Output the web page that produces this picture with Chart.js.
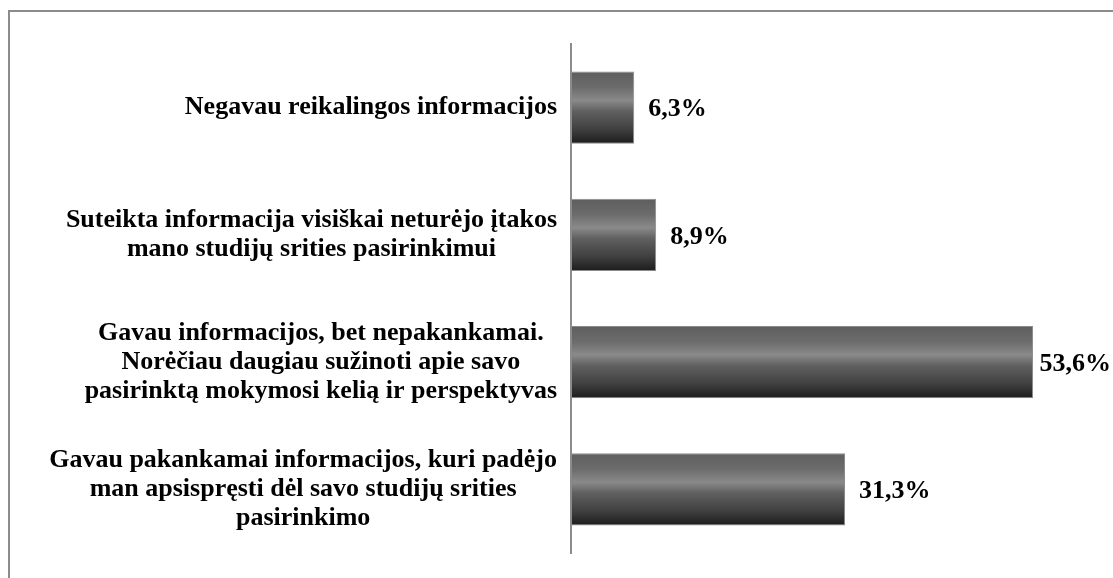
<!DOCTYPE html>
<html>
<head>
<meta charset="utf-8">
<script src="https://cdn.jsdelivr.net/npm/chart.js@4/dist/chart.umd.min.js"></script>
<style>
  html, body { margin: 0; padding: 0; background: #fff; }
  #wrap { width: 1113px; height: 578px; }
</style>
</head>
<body>
<div id="wrap"><canvas id="chart"></canvas></div>
<script>
// answers (one array of lines per category, top to bottom)
const categories = [
  ['Negavau reikalingos informacijos'],
  ['Suteikta informacija visiškai neturėjo įtakos', 'mano studijų srities pasirinkimui'],
  ['Gavau informacijos, bet nepakankamai.', 'Norėčiau daugiau sužinoti apie savo', 'pasirinktą mokymosi kelią ir perspektyvas'],
  ['Gavau pakankamai informacijos, kuri padėjo', 'man apsispręsti dėl savo studijų srities', 'pasirinkimo']
]
const values = [6.3, 8.9, 53.6, 31.3]

const FONT = '"Liberation Serif", "Times New Roman", serif'
const axisMin = -1.2
const barPct = 0.567

// gray frame round the whole chart
const framePlugin = {
  id: 'frame',
  beforeDraw(chart) {
    const ctx = chart.ctx
    ctx.save()
    ctx.strokeStyle = '#8c8c8c'
    ctx.lineWidth = 2
    ctx.strokeRect(9, 11, 1300, 800)
    ctx.restore()
  }
}

// cylinder-like shading, one gradient per bar
function barShade(c) {
  const chart = c.chart
  const yScale = chart.scales.y
  if (!yScale || c.dataIndex === undefined) return '#444'
  const h = yScale.height / categories.length * barPct
  const top = yScale.getPixelForValue(c.dataIndex) - h / 2
  if (!isFinite(top) || !isFinite(h) || h <= 0) return '#444'
  const g = chart.ctx.createLinearGradient(0, top, 0, top + h)
  g.addColorStop(0, '#5e5e5e')
  g.addColorStop(0.22, '#6c6c6c')
  g.addColorStop(0.4, '#8a8a8a')
  g.addColorStop(0.55, '#606060')
  g.addColorStop(0.8, '#404040')
  g.addColorStop(1, '#1c1c1c')
  return g
}

// category labels: block right aligned, lines centred in the block
const labelPlugin = {
  id: 'catLabels',
  afterDraw(chart) {
    const ctx = chart.ctx
    const yScale = chart.scales.y
    const right = chart.chartArea.left - 14
    const lineH = 29
    ctx.save()
    ctx.font = 'bold 26px ' + FONT
    ctx.fillStyle = '#000'
    ctx.textAlign = 'center'
    ctx.textBaseline = 'middle'
    categories.forEach((lines, i) => {
      const y = yScale.getPixelForValue(i)
      const w = Math.max(...lines.map(l => ctx.measureText(l).width))
      const cx = right - w / 2
      lines.forEach((l, j) => {
        ctx.fillText(l, cx, y + (j - (lines.length - 1) / 2) * lineH)
      })
    })

    // value labels after the bars, kept inside the canvas
    ctx.textAlign = 'left'
    chart.getDatasetMeta(0).data.forEach((bar, i) => {
      const txt = values[i].toFixed(1).replace('.', ',') + '%'
      const w = ctx.measureText(txt).width
      const x = Math.min(bar.x + 14, chart.width - w - 2)
      ctx.fillText(txt, x, bar.y + 2)
    })
    ctx.restore()
  }
}

new Chart(document.getElementById('chart'), {
  type: 'bar',
  data: {
    labels: categories,
    datasets: [{
      data: values,
      base: axisMin,
      backgroundColor: barShade,
      borderColor: '#8a8a8a',
      borderWidth: 1,
      borderSkipped: false,
      categoryPercentage: 1,
      barPercentage: barPct
    }]
  },
  options: {
    indexAxis: 'y',
    responsive: true,
    maintainAspectRatio: false,
    animation: false,
    layout: {
      padding: { left: 563, right: 26, top: 44, bottom: 25 }
    },
    plugins: {
      legend: { display: false },
      tooltip: { enabled: false }
    },
    scales: {
      x: {
        display: false,
        min: axisMin,
        max: 60
      },
      y: {
        grid: { display: false },
        ticks: { display: false },
        border: { color: '#8c8c8c', width: 2 }
      }
    }
  },
  plugins: [framePlugin, labelPlugin]
})
</script>
</body>
</html>
